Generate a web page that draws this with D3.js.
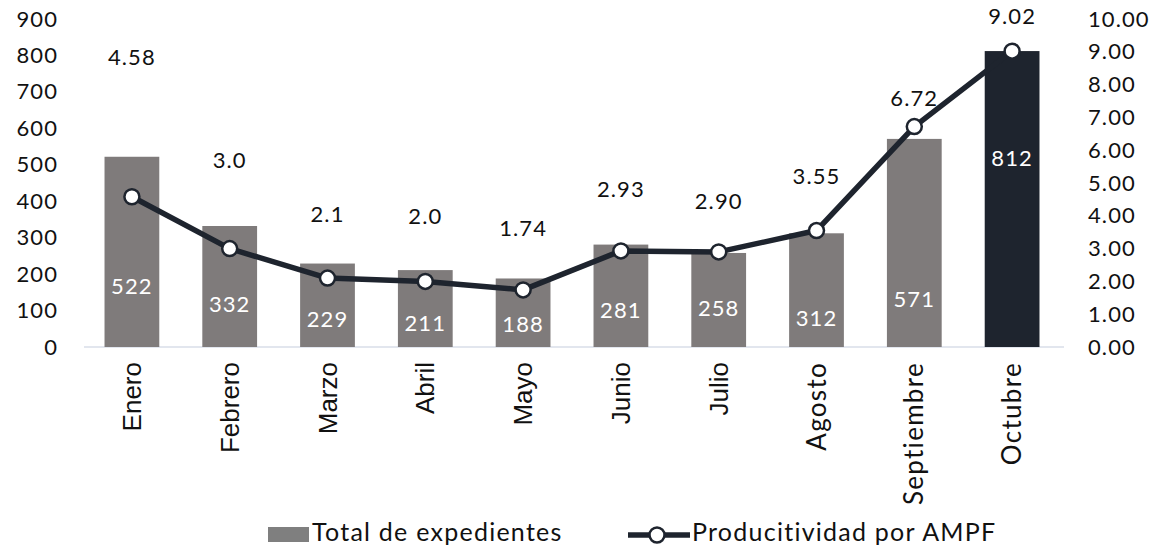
<!DOCTYPE html>
<html>
<head>
<meta charset="utf-8">
<script src="https://cdn.jsdelivr.net/npm/d3@7"></script>
<style>
  body { margin: 0; background: #fff; }
  svg text { font-family: Lato, "Open Sans", sans-serif; }
  .num, .leg, .month.raleway { letter-spacing: 0.05em; }
  .month.arial { font-family: "Liberation Sans", Arial, sans-serif; }
</style>
</head>
<body>
<div id="chart"></div>
<script>
// data
var months = ["Enero", "Febrero", "Marzo", "Abril", "Mayo", "Junio", "Julio", "Agosto", "Septiembre", "Octubre"];
var expedientes = [522, 332, 229, 211, 188, 281, 258, 312, 571, 812];
var productividad = [4.58, 3.0, 2.1, 2.0, 1.74, 2.93, 2.90, 3.55, 6.72, 9.02];
var prodLabels = ["4.58", "3.0", "2.1", "2.0", "1.74", "2.93", "2.90", "3.55", "6.72", "9.02"];
var leftTicks = [0, 100, 200, 300, 400, 500, 600, 700, 800, 900];
var rightTicks = [0, 1, 2, 3, 4, 5, 6, 7, 8, 9, 10];

// label placement as Excel left them (pixels)
var prodLift = [140, 89, 65, 66, 62, 62, 51, 55, 29, 36];
var barLabelLift = [62, 44, 29, 25, 24, 38, 40, 30, 49, 190];

var W = 1156, H = 546;
var svg = d3.select("#chart").append("svg")
  .attr("width", W).attr("height", H);

var x = d3.scaleBand()
  .domain(months)
  .range([83, 1061])
  .paddingInner(0.44)
  .paddingOuter(0.22);

var yL = d3.scaleLinear().domain([0, 900]).range([347, 19]);
var yR = d3.scaleLinear().domain([0, 10]).range([347, 19]);

// left axis
svg.append("g")
  .attr("transform", "translate(60,0)")
  .call(d3.axisLeft(yL).tickValues(leftTicks).tickSize(0).tickPadding(2))
  .call(function(g) {
    g.select(".domain").remove();
    g.selectAll("text").attr("class", "num").attr("font-size", 22).attr("fill", "#111")
      .style("font-family", "Lato, sans-serif");
  });

// right axis
svg.append("g")
  .attr("transform", "translate(1086,0)")
  .call(d3.axisRight(yR).tickValues(rightTicks).tickSize(0).tickPadding(2)
    .tickFormat(d3.format(".2f")))
  .call(function(g) {
    g.select(".domain").remove();
    g.selectAll("text").attr("class", "num").attr("font-size", 22).attr("fill", "#111")
      .style("font-family", "Lato, sans-serif");
  });

// baseline
svg.append("line")
  .attr("x1", 84).attr("x2", 1064)
  .attr("y1", yL(0)).attr("y2", yL(0))
  .attr("stroke", "#d9dee8").attr("stroke-width", 1.5);

// bars
svg.selectAll(".bar")
  .data(expedientes)
  .enter().append("rect")
  .attr("class", "bar")
  .attr("x", function(d, i) { return x(months[i]); })
  .attr("width", x.bandwidth())
  .attr("y", function(d) { return yL(d); })
  .attr("height", function(d) { return yL(0) - yL(d); })
  .attr("fill", function(d, i) { return i === months.length - 1 ? "#1e242e" : "#7f7b7b"; });

// bar values
svg.selectAll(".barval")
  .data(expedientes)
  .enter().append("text")
  .attr("class", "num")
  .attr("x", function(d, i) { return x(months[i]) + x.bandwidth() / 2; })
  .attr("y", function(d, i) { return yL(0) - barLabelLift[i]; })
  .attr("text-anchor", "middle")
  .attr("dominant-baseline", "central")
  .attr("font-size", 22)
  .attr("fill", "#fff")
  .text(function(d) { return d; });

// line
var cx = function(i) { return x(months[i]) + x.bandwidth() / 2; };
svg.append("path")
  .datum(productividad)
  .attr("d", d3.line()
    .x(function(d, i) { return cx(i); })
    .y(function(d) { return yR(d); }))
  .attr("fill", "none")
  .attr("stroke", "#1e242e")
  .attr("stroke-width", 5.5)
  .attr("stroke-linejoin", "round");

svg.selectAll(".dot")
  .data(productividad)
  .enter().append("circle")
  .attr("class", "dot")
  .attr("cx", function(d, i) { return cx(i); })
  .attr("cy", function(d) { return yR(d); })
  .attr("r", 7.5)
  .attr("fill", "#fff")
  .attr("stroke", "#1e242e")
  .attr("stroke-width", 2.5);

svg.selectAll(".prodval")
  .data(productividad)
  .enter().append("text")
  .attr("class", "num")
  .attr("x", function(d, i) { return cx(i); })
  .attr("y", function(d, i) { return yR(d) - prodLift[i]; })
  .attr("text-anchor", "middle")
  .attr("dominant-baseline", "central")
  .attr("font-size", 22)
  .attr("fill", "#111")
  .text(function(d, i) { return prodLabels[i]; });

// month labels, rotated
svg.selectAll(".month")
  .data(months)
  .enter().append("text")
  .attr("class", function(d, i) { return i < 7 ? "month arial" : "month raleway"; })
  .attr("transform", function(d) {
    return "translate(" + (x(d) + x.bandwidth() / 2 + 9) + ",362) rotate(-90)";
  })
  .attr("text-anchor", "end")
  .attr("font-size", 26)
  .attr("fill", "#111")
  .text(function(d) { return d; });

// legend
var leg = svg.append("g");
leg.append("rect")
  .attr("x", 268).attr("y", 527).attr("width", 41).attr("height", 15)
  .attr("fill", "#7f7f7f");
leg.append("text")
  .attr("class", "leg")
  .attr("x", 312).attr("y", 541)
  .attr("font-size", 25).attr("fill", "#111")
  .text("Total de expedientes");
leg.append("line")
  .attr("x1", 628).attr("x2", 690).attr("y1", 535).attr("y2", 535)
  .attr("stroke", "#1e242e").attr("stroke-width", 5.5);
leg.append("circle")
  .attr("cx", 657).attr("cy", 535).attr("r", 7.5)
  .attr("fill", "#fff").attr("stroke", "#1e242e").attr("stroke-width", 2.5);
leg.append("text")
  .attr("class", "leg")
  .attr("x", 692).attr("y", 541)
  .attr("font-size", 25).attr("fill", "#111")
  .text("Producitividad por AMPF");
</script>
</body>
</html>
